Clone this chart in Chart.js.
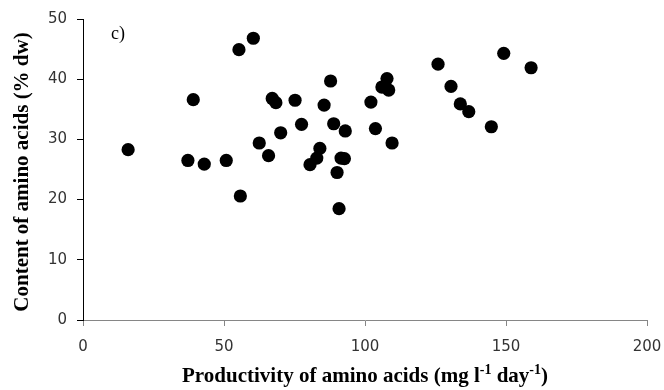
<!DOCTYPE html>
<html>
<head>
<meta charset="utf-8">
<script src="https://cdn.jsdelivr.net/npm/chart.js@4.4.0/dist/chart.umd.min.js"></script>
<style>
  html, body { margin: 0; padding: 0; background: #fff; }
  #wrap { width: 664px; height: 390px; position: relative; }
</style>
</head>
<body>
<div id="wrap"><canvas id="chart"></canvas></div>
<script>
// Amino acid productivity (mg l-1 day-1) vs amino acid content (% dw), panel c
const productivity = [16.0, 37.2, 39.1, 43.0, 50.8, 55.3, 60.4, 55.8, 62.5, 65.8,
  67.1, 68.4, 70.1, 75.2, 77.5, 80.5, 82.9, 84.0, 85.5, 87.8,
  88.9, 90.1, 91.5, 92.7, 93.0, 90.8, 102.1, 103.7, 109.6, 107.8,
  106.0, 108.4, 125.9, 130.5, 133.8, 136.8, 144.8, 149.2, 158.9];
const content = [28.3, 26.5, 36.6, 25.9, 26.5, 44.9, 46.8, 20.6, 29.4, 27.3,
  36.8, 36.1, 31.1, 36.5, 32.5, 25.8, 26.9, 28.5, 35.7, 39.7,
  32.6, 24.5, 26.9, 26.8, 31.4, 18.5, 36.2, 31.8, 29.4, 40.1,
  38.7, 38.2, 42.5, 38.8, 35.9, 34.6, 32.1, 44.3, 41.9];
const xTicks = [0, 50, 100, 150, 200];
const yTicks = [0, 10, 20, 30, 40, 50];

const tickFont = { family: "'DejaVu Sans', sans-serif", size: 15 };

// axis titles (with superscripts) and the panel label, drawn on the canvas
const titles = {
  id: 'titles',
  afterDraw(chart) {
    const ctx = chart.ctx, a = chart.chartArea;
    ctx.save();
    ctx.fillStyle = '#000';
    ctx.textBaseline = 'alphabetic';

    ctx.font = "18px 'Liberation Serif', serif";
    ctx.textAlign = 'left';
    ctx.fillText('c)', 111, 39);

    const big = "bold 21px 'Liberation Serif', serif";
    const small = "bold 14px 'Liberation Serif', serif";
    const parts = [['Productivity of amino acids (mg l', 0], ['-1', 1], [' day', 0], ['-1', 1], [')', 0]];
    let total = 0;
    parts.forEach(p => { ctx.font = p[1] ? small : big; total += ctx.measureText(p[0]).width; });
    let x = (a.left + a.right) / 2 - total / 2;
    parts.forEach(p => {
      ctx.font = p[1] ? small : big;
      ctx.fillText(p[0], x, p[1] ? 374 : 382);
      x += ctx.measureText(p[0]).width;
    });

    ctx.translate(28, 172);
    ctx.rotate(-Math.PI / 2);
    ctx.textAlign = 'center';
    ctx.font = "bold 21px 'Liberation Serif', serif";
    ctx.fillText('Content of amino acids (% dw)', 0, 0);
    ctx.restore();
  }
};

new Chart(document.getElementById('chart'), {
  type: 'scatter',
  data: {
    datasets: [{
      data: productivity.map((v, i) => ({ x: v, y: content[i] })),
      backgroundColor: '#000',
      borderWidth: 0,
      pointRadius: 6.6,
      pointHoverRadius: 6.6,
    }],
  },
  options: {
    responsive: true, maintainAspectRatio: false, animation: false,
    layout: { padding: { top: 16, right: 17, left: 0, bottom: 0 } },
    plugins: { legend: { display: false }, tooltip: { enabled: false } },
    scales: {
      x: {
        min: xTicks[0], max: xTicks[xTicks.length - 1],
        afterFit: s => { s.height = 70; s.paddingRight = 10; },
        ticks: { stepSize: xTicks[1] - xTicks[0], font: tickFont, color: '#333', padding: 12 },
        grid: { drawOnChartArea: false, tickLength: 6, color: '#868686' },
        border: { color: '#868686', width: 1 },
      },
      y: {
        min: yTicks[0], max: yTicks[yTicks.length - 1],
        afterFit: s => { s.width = 83; },
        ticks: { stepSize: yTicks[1] - yTicks[0], font: tickFont, color: '#333', padding: 10 },
        grid: { drawOnChartArea: false, tickLength: 6, color: '#000' },
        border: { color: '#000', width: 1 },
      },
    },
  },
  plugins: [titles],
});
</script>
</body>
</html>
